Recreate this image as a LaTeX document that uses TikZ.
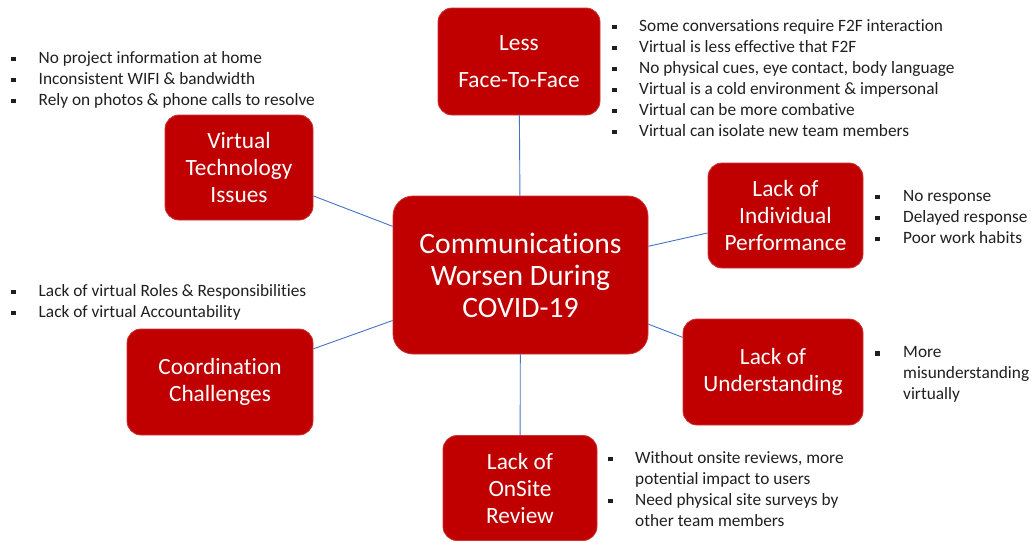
\documentclass[tikz,border=0pt]{standalone}
\usepackage{fontspec}
\setmainfont{Carlito}[Ligatures={NoCommon}]
\definecolor{boxred}{RGB}{192,0,0}
\definecolor{linkblue}{RGB}{68,114,196}
\newcommand{\bsq}{\raisebox{1.8pt}{\rule{4.5pt}{4.5pt}}}
\begin{document}
\begin{tikzpicture}[x=1pt,y=-1pt,
  topic/.style={rectangle, rounded corners=14pt, fill=boxred, draw=boxred!80!white, line width=0.8pt, text=white, align=center, inner sep=0pt, font=\fontsize{23.3}{27}\selectfont},
  hub/.style={topic, rounded corners=20pt, font=\fontsize{29.6}{32}\selectfont},
  notes/.style={anchor=base west, inner sep=0pt, text=black!88, font=\fontsize{17.3}{21}\selectfont},
  link/.style={draw=linkblue, line width=0.9pt}]
\useasboundingbox (0,0) rectangle (1031,541);

\node[hub, minimum width=255pt, minimum height=158pt] (hub) at (520.5,275) {Communications\\Worsen During\\COVID-19};
\node[topic, minimum width=162pt, minimum height=107pt] (f2f) at (519,61.5) {Less\\[10pt]Face-To-Face};
\node[topic, minimum width=148pt, minimum height=105pt] (vt) at (239,167.5) {Virtual\\Technology\\Issues};
\node[topic, minimum width=155pt, minimum height=105pt] (ip) at (785.5,215.5) {Lack of\\Individual\\Performance};
\node[topic, minimum width=186pt, minimum height=106pt] (co) at (220,382) {Coordination\\Challenges};
\node[topic, minimum width=180pt, minimum height=106pt] (un) at (773,372) {Lack of\\Understanding};
\node[topic, minimum width=154pt, minimum height=105pt] (os) at (520,488) {Lack of\\OnSite\\Review};

\draw[link] (f2f) -- (hub);
\draw[link] (vt) -- (hub);
\draw[link] (hub) -- (ip);
\draw[link] (co) -- (hub);
\draw[link] (hub) -- (un);
\draw[link] (hub) -- (os);

\node[notes] (nf2f) at (612,31) {\begin{tabular}[t]{@{}p{27pt}@{}l@{}}
\bsq & Some conversations require F2F interaction\\
\bsq & Virtual is less effective that F2F\\
\bsq & No physical cues, eye contact, body language\\
\bsq & Virtual is a cold environment \& impersonal\\
\bsq & Virtual can be more combative\\
\bsq & Virtual can isolate new team members
\end{tabular}};
\node[notes] (nvt) at (11,63) {\begin{tabular}[t]{@{}p{27.5pt}@{}l@{}}
\bsq & No project information at home\\
\bsq & Inconsistent WIFI \& bandwidth\\
\bsq & Rely on photos \& phone calls to resolve
\end{tabular}};
\node[notes] (nip) at (875,201) {\begin{tabular}[t]{@{}p{28pt}@{}l@{}}
\bsq & No response\\
\bsq & Delayed response\\
\bsq & Poor work habits
\end{tabular}};
\node[notes] (nco) at (11,296) {\begin{tabular}[t]{@{}p{27.5pt}@{}l@{}}
\bsq & Lack of virtual Roles \& Responsibilities\\
\bsq & Lack of virtual Accountability
\end{tabular}};
\node[notes] (nun) at (875,357.5) {\begin{tabular}[t]{@{}p{28pt}@{}l@{}}
\bsq & More\\
 & misunderstanding\\
 & virtually
\end{tabular}};
\node[notes] (nos) at (608,463) {\begin{tabular}[t]{@{}p{27pt}@{}l@{}}
\bsq & Without onsite reviews, more\\
 & potential impact to users\\
\bsq & Need physical site surveys by\\
 & other team members
\end{tabular}};
\end{tikzpicture}
\end{document}
